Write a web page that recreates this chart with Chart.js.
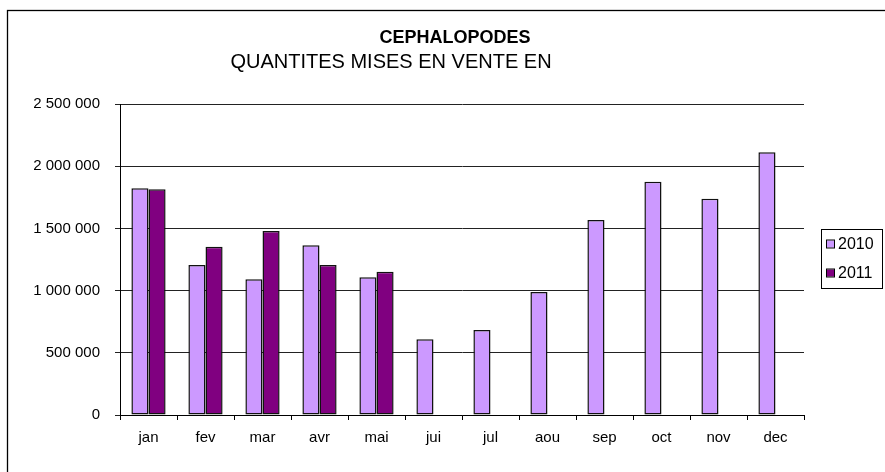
<!DOCTYPE html>
<html>
<head>
<meta charset="utf-8">
<script src="https://cdn.jsdelivr.net/npm/chart.js@4/dist/chart.umd.min.js"></script>
<style>
  html, body { margin: 0; padding: 0; background: #fff; }
  #wrap { width: 885px; height: 472px; }
</style>
</head>
<body>
<div id="wrap"><canvas id="canvas-cephalopodes"></canvas></div>
<script>
const titre = "CEPHALOPODES";
const sousTitre = "QUANTITES MISES EN VENTE EN";
const mois = ["jan", "fev", "mar", "avr", "mai", "jui", "jul", "aou", "sep", "oct", "nov", "dec"];
const ventes2010 = [1822000, 1206000, 1091000, 1364000, 1107000, 608000, 683000, 989000, 1568000, 1876000, 1739000, 2112000];
const ventes2011 = [1814000, 1353000, 1479000, 1206000, 1152000, null, null, null, null, null, null, null];
const ticksY = [0, 500000, 1000000, 1500000, 2000000, 2500000];

const police = '"Liberation Sans", Arial, sans-serif';

function formatNombre(v) {
  return v.toString().replace(/\B(?=(\d{3})+(?!\d))/g, " ");
}

// fond, cadre, titres et légende encadrée
const decor = {
  id: "decor",
  beforeDraw(chart) {
    const ctx = chart.ctx;
    ctx.save();
    ctx.fillStyle = "#fff";
    ctx.fillRect(0, 0, chart.width, chart.height);
    ctx.strokeStyle = "#000";
    ctx.lineWidth = 1.3;
    ctx.strokeRect(7.5, 10.5, chart.width + 20, chart.height + 20);
    ctx.restore();
  },
  afterDraw(chart) {
    const ctx = chart.ctx;
    ctx.save();
    ctx.fillStyle = "#000";
    ctx.textAlign = "center";
    ctx.textBaseline = "alphabetic";
    ctx.font = "bold 18px " + police;
    ctx.fillText(titre, 455, 43);
    ctx.font = "20px " + police;
    ctx.fillText(sousTitre, 391, 68);

    // légende
    ctx.strokeStyle = "#000";
    ctx.lineWidth = 1;
    ctx.strokeRect(821.5, 229.5, 61, 59);
    ctx.textAlign = "left";
    ctx.textBaseline = "middle";
    ctx.font = "16px " + police;
    chart.data.datasets.forEach((ds, i) => {
      const y = 244 + i * 29;
      ctx.fillStyle = ds.backgroundColor;
      ctx.fillRect(827, y - 3.5, 7, 7);
      ctx.strokeRect(826.5, y - 4, 8, 8);
      ctx.fillStyle = "#000";
      ctx.fillText(ds.label, 838, y + 1);
    });
    ctx.restore();
  },
};

const data = {
  labels: mois,
  datasets: [
    {
      label: "2010",
      data: ventes2010,
      backgroundColor: "#CC99FF",
      borderColor: "#111",
      borderWidth: 1.5,
      borderSkipped: false,
    },
    {
      label: "2011",
      data: ventes2011,
      backgroundColor: "#800080",
      borderColor: "#111",
      borderWidth: 1.5,
      borderSkipped: false,
    },
  ],
};

const config = {
  type: "bar",
  data: data,
  options: {
    responsive: false,
    animation: false,
    categoryPercentage: 0.6,
    barPercentage: 1,
    layout: { padding: { left: 0, right: 81, top: 104, bottom: 0 } },
    plugins: {
      legend: { display: false },
      tooltip: { enabled: false },
    },
    scales: {
      x: {
        grid: {
          offset: true,
          drawOnChartArea: false,
          color: "#000",
          tickLength: 5,
        },
        border: { color: "#000", width: 1 },
        ticks: {
          color: "#000",
          padding: 9,
          font: { family: police, size: 15 },
          maxRotation: 0,
        },
        afterFit(scale) {
          scale.height = 57;
        },
      },
      y: {
        min: 0,
        max: 2500000,
        afterBuildTicks(scale) {
          scale.ticks = ticksY.map((v) => ({ value: v }));
        },
        grid: { color: "#222", tickLength: 5 },
        border: { color: "#000", width: 1 },
        ticks: {
          color: "#000",
          padding: 15,
          font: { family: police, size: 15 },
          callback: (v) => formatNombre(v),
        },
        afterFit(scale) {
          scale.width = 120;
        },
      },
    },
  },
  plugins: [decor],
};

const canvas = document.getElementById("canvas-cephalopodes");
canvas.width = 885;
canvas.height = 472;
new Chart(canvas, config);
</script>
</body>
</html>
